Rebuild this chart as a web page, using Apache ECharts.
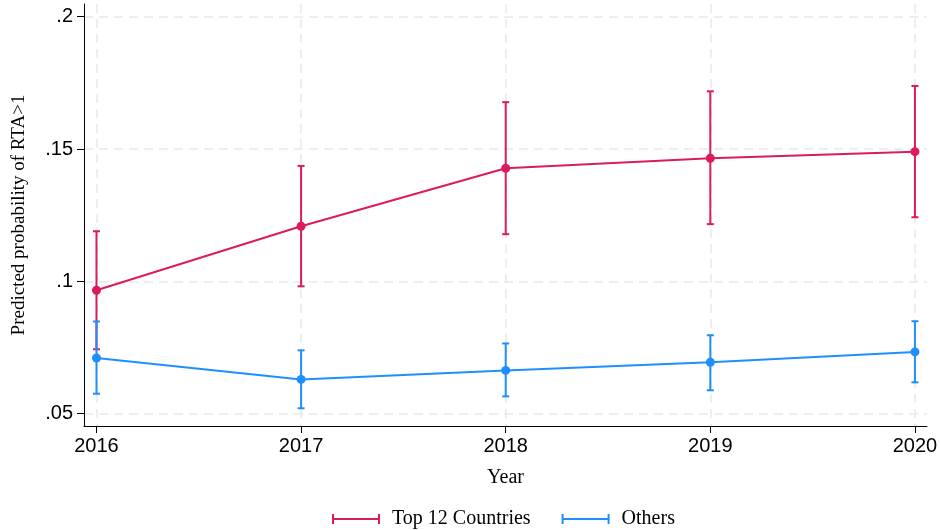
<!DOCTYPE html>
<html>
<head>
<meta charset="utf-8">
<script src="https://cdn.jsdelivr.net/npm/echarts@6/dist/echarts.min.js"></script>
<style>
  html, body { margin: 0; padding: 0; background: #fff; }
  #chart { width: 941px; height: 530px; }
</style>
</head>
<body>
<div id="chart"></div>
<script>
// Survey years
const years = [2016, 2017, 2018, 2019, 2020];

// Predicted probability of RTA>1 with 95% confidence bounds
const topPred = [0.0966, 0.1208, 0.1427, 0.1465, 0.1490];
const topLow  = [0.0743, 0.0981, 0.1178, 0.1216, 0.1242];
const topHigh = [0.1189, 0.1436, 0.1677, 0.1718, 0.1738];

const othersPred = [0.0710, 0.0629, 0.0663, 0.0694, 0.0733];
const othersLow  = [0.0575, 0.0520, 0.0565, 0.0588, 0.0618];
const othersHigh = [0.0848, 0.0739, 0.0765, 0.0796, 0.0849];

// Axis ticks
const yTicks = [0.05, 0.10, 0.15, 0.20];
const yTickLabels = ['.05', '.1', '.15', '.2'];
const xTicks = years;

const RED = '#dc1a5f';
const BLUE = '#1f8fff';
const SERIF = '"Liberation Serif", "Times New Roman", serif';
const SANS = '"Liberation Sans", Arial, sans-serif';

const chart = echarts.init(document.getElementById('chart'));

// Vertical CI bar with end caps
function ciRenderer(color) {
  return function (params, api) {
    const x = api.value(0);
    const lo = api.coord([x, api.value(1)]);
    const hi = api.coord([x, api.value(2)]);
    const half = 3.5;
    const style = { stroke: color, lineWidth: 2 };
    return {
      type: 'group',
      children: [
        { type: 'line', shape: { x1: lo[0], y1: lo[1], x2: hi[0], y2: hi[1] }, style: style },
        { type: 'line', shape: { x1: hi[0] - half, y1: hi[1], x2: hi[0] + half, y2: hi[1] }, style: style },
        { type: 'line', shape: { x1: lo[0] - half, y1: lo[1], x2: lo[0] + half, y2: lo[1] }, style: style }
      ]
    };
  };
}

const legendIcon = 'path://M0,0L2,0L2,4L46,4L46,0L48,0L48,10L46,10L46,6L2,6L2,10L0,10Z';

const option = {
  animation: false,
  backgroundColor: '#ffffff',
  grid: { left: 84, right: 14, top: 4, bottom: 104, containLabel: false },
  legend: {
    top: 504,
    left: 327,
    itemWidth: 48,
    itemHeight: 10,
    itemGap: 31,
    symbolKeepAspect: false,
    textStyle: { fontFamily: SERIF, fontSize: 20, color: '#000', padding: [0, 0, 0, 7] },
    data: [
      { name: 'Top 12 Countries', icon: legendIcon, itemStyle: { color: RED } },
      { name: 'Others', icon: legendIcon, itemStyle: { color: BLUE } }
    ]
  },
  xAxis: {
    type: 'value',
    min: 2015.939,
    max: 2020.059,
    name: 'Year',
    nameLocation: 'middle',
    nameGap: 42,
    nameTextStyle: { fontFamily: SERIF, fontSize: 20, color: '#000' },
    axisLine: { show: true, lineStyle: { color: '#000', width: 1 } },
    axisTick: { show: true, length: 7, customValues: xTicks, lineStyle: { color: '#000' } },
    axisLabel: {
      customValues: xTicks,
      margin: 10,
      fontFamily: SANS, fontSize: 20, color: '#000',
      formatter: v => String(Math.round(v))
    },
    splitLine: { show: true, lineStyle: { color: '#e9e9e9', type: [9, 6], width: 1.5 } }
  },
  yAxis: {
    type: 'value',
    min: 0.0453,
    max: 0.2048,
    name: 'Predicted probability of RTA>1',
    nameLocation: 'middle',
    nameGap: 55,
    nameTextStyle: { fontFamily: SERIF, fontSize: 19, color: '#000' },
    axisLine: { show: true, lineStyle: { color: '#000', width: 1 } },
    axisTick: { show: true, length: 7, customValues: yTicks, lineStyle: { color: '#000' } },
    axisLabel: {
      customValues: yTicks,
      margin: 11,
      fontFamily: SANS, fontSize: 20, color: '#000',
      formatter: v => {
        const i = yTicks.findIndex(t => Math.abs(t - v) < 1e-6);
        return i >= 0 ? yTickLabels[i] : '';
      }
    },
    splitLine: { show: true, lineStyle: { color: '#e9e9e9', type: [9, 6], width: 1.5 } }
  },
  series: [
    {
      name: 'Top 12 Countries CI',
      type: 'custom',
      renderItem: ciRenderer(RED),
      data: years.map((y, i) => [y, topLow[i], topHigh[i]]),
      z: 3
    },
    {
      name: 'Others CI',
      type: 'custom',
      renderItem: ciRenderer(BLUE),
      data: years.map((y, i) => [y, othersLow[i], othersHigh[i]]),
      z: 3
    },
    {
      name: 'Top 12 Countries',
      type: 'line',
      data: years.map((y, i) => [y, topPred[i]]),
      symbol: 'circle',
      symbolSize: 9,
      lineStyle: { color: RED, width: 2 },
      itemStyle: { color: RED },
      z: 4
    },
    {
      name: 'Others',
      type: 'line',
      data: years.map((y, i) => [y, othersPred[i]]),
      symbol: 'circle',
      symbolSize: 9,
      lineStyle: { color: BLUE, width: 2 },
      itemStyle: { color: BLUE },
      z: 4
    }
  ]
};

chart.setOption(option);
</script>
</body>
</html>
